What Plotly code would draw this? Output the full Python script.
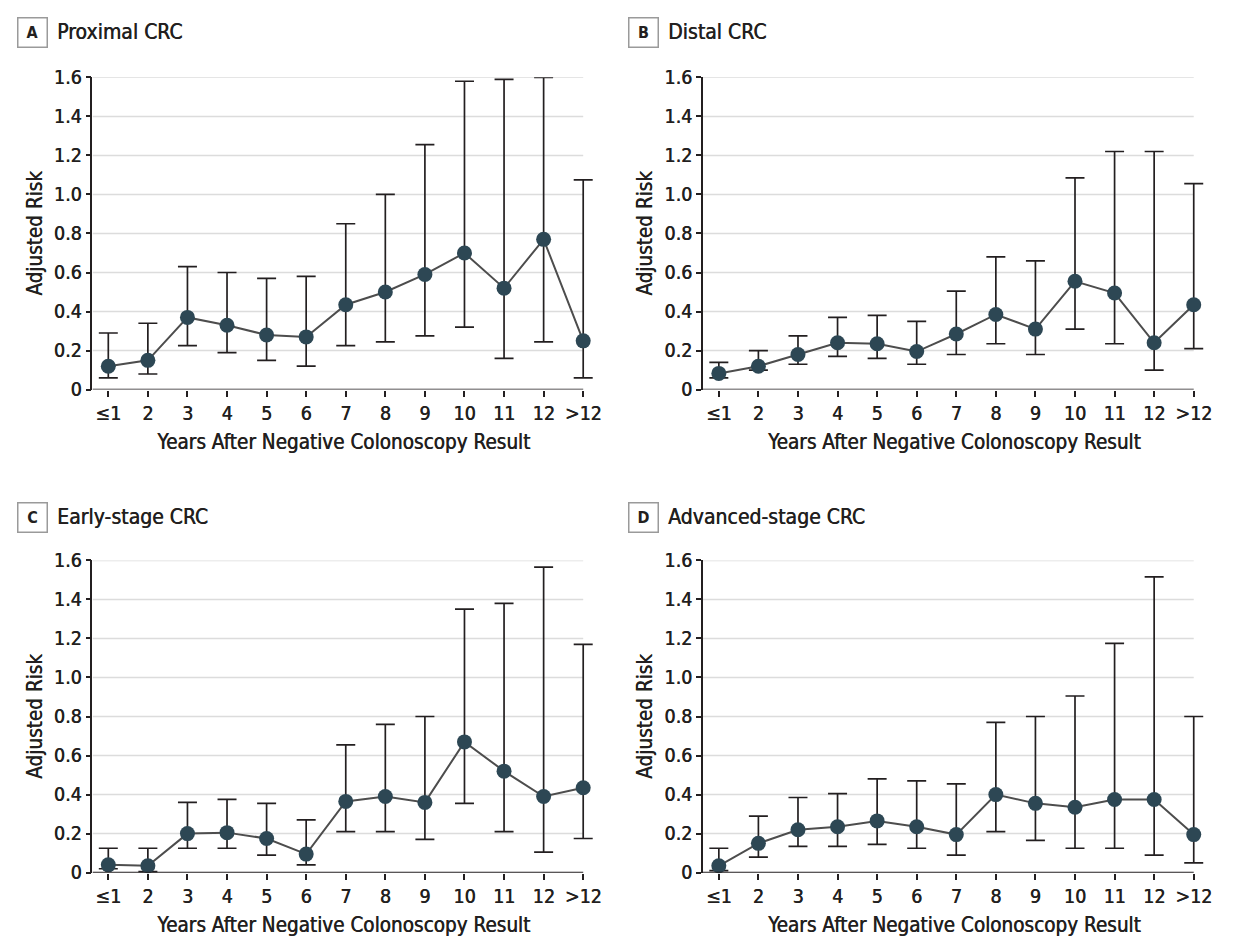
import plotly.graph_objects as go

years = ["≤1", "2", "3", "4", "5", "6", "7", "8", "9", "10", "11", "12", ">12"]
y_ticks = [0, 0.2, 0.4, 0.6, 0.8, 1.0, 1.2, 1.4, 1.6]
y_ticktext = ["0", "0.2", "0.4", "0.6", "0.8", "1.0", "1.2", "1.4", "1.6"]

panel_letters = ["A", "B", "C", "D"]
panel_titles = ["Proximal CRC", "Distal CRC", "Early-stage CRC", "Advanced-stage CRC"]

proximal_risk = [0.12, 0.15, 0.37, 0.33, 0.28, 0.27, 0.435, 0.50, 0.59, 0.70, 0.52, 0.77, 0.25]
proximal_upper = [0.29, 0.34, 0.63, 0.60, 0.57, 0.58, 0.85, 1.00, 1.255, 1.58, 1.59, 1.60, 1.075]
proximal_lower = [0.06, 0.08, 0.225, 0.19, 0.15, 0.12, 0.225, 0.245, 0.275, 0.32, 0.16, 0.245, 0.06]

distal_risk = [0.083, 0.12, 0.18, 0.24, 0.235, 0.195, 0.285, 0.385, 0.31, 0.555, 0.495, 0.24, 0.435]
distal_upper = [0.14, 0.20, 0.275, 0.37, 0.38, 0.35, 0.505, 0.68, 0.66, 1.085, 1.22, 1.22, 1.055]
distal_lower = [0.06, 0.10, 0.13, 0.17, 0.16, 0.13, 0.18, 0.235, 0.18, 0.31, 0.235, 0.10, 0.21]

early_risk = [0.04, 0.035, 0.20, 0.205, 0.175, 0.095, 0.365, 0.39, 0.36, 0.67, 0.52, 0.39, 0.435]
early_upper = [0.125, 0.125, 0.36, 0.375, 0.355, 0.27, 0.655, 0.76, 0.80, 1.35, 1.38, 1.565, 1.17]
early_lower = [0.02, 0.005, 0.125, 0.125, 0.09, 0.04, 0.21, 0.21, 0.17, 0.355, 0.21, 0.105, 0.175]

advanced_risk = [0.035, 0.15, 0.22, 0.235, 0.265, 0.235, 0.195, 0.40, 0.355, 0.335, 0.375, 0.375, 0.195]
advanced_upper = [0.125, 0.29, 0.385, 0.405, 0.48, 0.47, 0.455, 0.77, 0.80, 0.905, 1.175, 1.515, 0.80]
advanced_lower = [0.01, 0.08, 0.135, 0.135, 0.145, 0.125, 0.09, 0.21, 0.165, 0.125, 0.125, 0.09, 0.05]

series = [
    (proximal_risk, proximal_upper, proximal_lower),
    (distal_risk, distal_upper, distal_lower),
    (early_risk, early_upper, early_lower),
    (advanced_risk, advanced_upper, advanced_lower),
]

W, H = 1237, 951
FONT = "DejaVu Sans Condensed, Liberation Sans Narrow, Roboto, sans-serif"
TXT = "#231f20"
SHADOW = "0.5px 0px 0px #231f20"
MARK = "#2d4754"
X_LO, X_AXIS_END, X_HI = -0.4, 12, 12.3
PX_PER_CAT = 39.8

# pixel boxes (left, top, bottom) of each plot area
boxes = [
    (93, 68, 388),
    (707, 68, 388),
    (93, 563, 883),
    (707, 563, 883),
]
label_pos = [(17, 22), (632, 22), (17, 519), (632, 519)]


def tfont(size):
    return dict(family=FONT, size=size, color=TXT, shadow=SHADOW)


fig = go.Figure()
for i, ((risk, up, lo), (l, t, b)) in enumerate(zip(series, boxes)):
    n = i + 1
    xa = "x" if n == 1 else f"x{n}"
    ya = "y" if n == 1 else f"y{n}"
    r = l + (X_HI - X_LO) * PX_PER_CAT
    # gridlines and x axis line, stopping at the last category
    for v in y_ticks:
        fig.add_shape(type="line", xref=xa, yref=ya, x0=X_LO, x1=X_AXIS_END, y0=v, y1=v,
                      line=dict(color="#231f20" if v == 0 else "#dcdcdc",
                                width=1.7 if v == 0 else 1.5),
                      layer="below" if v != 0 else "above")
    fig.add_trace(go.Scatter(
        x=years, y=risk, xaxis=xa, yaxis=ya, mode="lines+markers",
        line=dict(color="#4d4d4d", width=2),
        marker=dict(color=MARK, size=15),
        error_y=dict(type="data", symmetric=False,
                     array=[u - v for u, v in zip(up, risk)],
                     arrayminus=[v - w for v, w in zip(risk, lo)],
                     color="#231f20", thickness=1.7, width=9.5),
        showlegend=False, cliponaxis=False,
    ))
    xkey = "xaxis" if n == 1 else f"xaxis{n}"
    ykey = "yaxis" if n == 1 else f"yaxis{n}"
    fig.layout[xkey] = dict(
        domain=[l / W, r / W], anchor=ya, type="category",
        categoryorder="array", categoryarray=years,
        range=[X_LO, X_HI], showgrid=False, showline=False,
        ticks="outside", ticklen=6, tickwidth=1.7, tickcolor="#231f20",
        tickfont=tfont(19.5),
        title=dict(text="Years After Negative Colonoscopy Result",
                   font=tfont(20.5), standoff=10),
        zeroline=False, fixedrange=True,
    )
    fig.layout[ykey] = dict(
        domain=[1 - b / H, 1 - t / H], anchor=xa, range=[0, 1.6],
        tickvals=y_ticks, ticktext=y_ticktext,
        showgrid=False,
        showline=True, linecolor="#231f20", linewidth=1.7,
        ticks="outside", ticklen=5, tickwidth=1.7, tickcolor="#231f20",
        tickfont=tfont(19.5),
        title=dict(text="Adjusted Risk", font=tfont(20.5), standoff=6),
        zeroline=False, fixedrange=True,
    )
    tx, ty = label_pos[i]
    fig.add_annotation(
        x=tx / W, y=1 - ty / H, xref="paper", yref="paper", xanchor="left", yanchor="middle",
        text=f"<b>{panel_letters[i]}</b>", showarrow=False,
        font=dict(family=FONT, size=16, color=TXT),
        bordercolor="#9a9a9a", borderwidth=1.5, borderpad=1, width=26, height=26,
    )
    fig.add_annotation(
        x=(tx + 38) / W, y=1 - ty / H, xref="paper", yref="paper", xanchor="left", yanchor="middle",
        text=panel_titles[i], showarrow=False,
        font=tfont(21),
    )

fig.update_layout(
    width=W, height=H, margin=dict(l=0, r=0, t=0, b=0),
    plot_bgcolor="white", paper_bgcolor="white",
    font=dict(family=FONT, color=TXT),
)
fig.write_html("out.html", config={"displayModeBar": False},
               post_script="document.body.style.margin='0';")
